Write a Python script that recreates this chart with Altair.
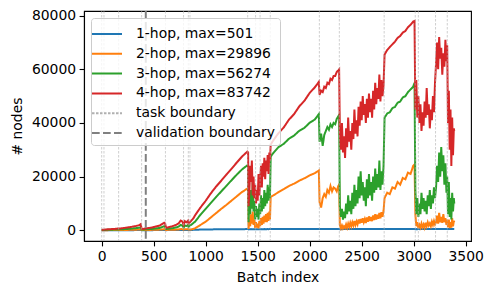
import altair as alt
import pandas as pd

# ---- data ----
batch = [
    0, 20, 40, 60, 80, 100, 120, 140, 160, 180, 200, 220, 240, 260, 280, 300, 320, 340, 360,
    375, 384, 400, 420, 440, 460, 480, 500, 520, 540, 560, 580, 600, 610, 618,
    640, 660, 680, 700, 720, 740, 760, 775, 788, 800, 815, 830, 835, 849,
    860, 881, 900, 950, 1000, 1050, 1100, 1150, 1200, 1250, 1300, 1350, 1400, 1408,
    1412, 1420, 1428, 1436, 1444, 1452, 1460, 1468, 1476, 1484, 1492, 1500, 1508, 1516,
    1524, 1532, 1540, 1548, 1556, 1564, 1572, 1580, 1588, 1596, 1604, 1612, 1618,
    1625, 1650, 1700, 1750, 1800, 1850, 1900, 1950, 2000, 2050, 2088,
    2095, 2110, 2125, 2140, 2155, 2170, 2185, 2200, 2215, 2230, 2245, 2260, 2275, 2283,
    2290, 2300, 2310, 2320, 2330, 2340, 2350, 2360, 2370, 2380, 2390, 2400, 2410, 2420,
    2430, 2440, 2450, 2460, 2470, 2480, 2490, 2500, 2510, 2520, 2530, 2540, 2550, 2560,
    2570, 2580, 2590, 2600, 2610, 2620, 2630, 2640, 2650, 2660, 2670, 2680, 2690, 2700, 2710,
    2720, 2745, 2770, 2795, 2820, 2845, 2870, 2895, 2920, 2945, 2970, 2995, 3008,
    3016, 3025, 3035, 3045, 3055, 3065, 3075, 3085, 3095, 3105, 3115, 3125, 3135, 3145,
    3155, 3165, 3175, 3185, 3195, 3205,
    3215, 3225, 3235, 3245, 3255, 3265, 3275, 3285, 3295, 3305, 3315, 3322,
    3330, 3338, 3346, 3354, 3362, 3370, 3378, 3386, 3390,
]

hop1 = [
    20, 25, 30, 30, 35, 35, 40, 40, 45, 45, 50, 50, 55, 55, 60, 60, 65, 65, 70,
    75, 50, 50, 55, 55, 60, 60, 65, 65, 70, 70, 75, 80, 80, 60,
    65, 70, 75, 80, 85, 90, 100, 100, 90, 100, 100, 110, 100, 110,
    130, 160, 200, 260, 300, 330, 360, 380, 400, 410, 420, 430, 440, 440,
    350, 420, 380, 440, 400, 430, 390, 420, 370, 410, 380, 420, 390, 430,
    400, 440, 410, 430, 400, 450, 420, 440, 410, 450, 430, 460, 440,
    450, 455, 460, 460, 465, 465, 470, 470, 475, 475, 480,
    470, 475, 470, 480, 475, 480, 480, 485, 480, 485, 485, 490, 490, 490,
    420, 440, 430, 450, 440, 455, 445, 460, 450, 460, 455, 465, 455, 470,
    460, 470, 465, 475, 465, 475, 470, 480, 470, 480, 475, 485, 475, 485,
    480, 490, 480, 490, 485, 495, 485, 495, 490, 500, 490, 500, 495, 501, 495,
    480, 485, 480, 490, 485, 490, 485, 495, 490, 495, 490, 495, 495,
    420, 440, 430, 450, 435, 455, 440, 450, 440, 455, 445, 460, 445, 455,
    440, 460, 450, 465, 450, 460,
    450, 465, 455, 470, 460, 470, 455, 465, 460, 470, 455, 465,
    430, 450, 440, 455, 440, 450, 445, 455, 450,
]

hop2 = [
    30, 40, 50, 60, 70, 80, 90, 100, 110, 120, 130, 140, 150, 160, 180, 200, 220, 250, 280,
    330, 100, 90, 120, 130, 150, 160, 180, 200, 230, 260, 320, 380, 350, 150,
    160, 180, 200, 230, 270, 320, 450, 420, 250, 420, 380, 450, 300, 300,
    300, 500, 800, 2000, 3200, 4800, 6400, 8000, 9500, 11100, 12700, 14300, 15500, 15300,
    500, 4000, 1500, 6000, 2500, 7000, 2000, 4000, 800, 3000, 1000, 2500, 700, 3500,
    1500, 4500, 2000, 5000, 2500, 5500, 3000, 6000, 3000, 6500, 3500, 7000, 4000,
    12500, 13000, 14200, 15300, 16500, 17400, 18500, 19400, 20500, 21300, 22300,
    10500, 8500, 12000, 13500, 12500, 15000, 14000, 16500, 14500, 16000, 15500, 14500, 16500, 17000,
    2000, 800, 1800, 700, 1500, 900, 2200, 1000, 2500, 1300, 2800, 1500, 3000, 1800,
    3500, 2000, 3300, 2200, 4000, 2500, 4200, 2800, 4500, 3000, 4200, 2700, 4800, 3200,
    5200, 3500, 5000, 3400, 5500, 3800, 6000, 4000, 5800, 4300, 6500, 4500, 6800, 5000, 7200,
    12000, 14000, 13500, 16000, 15500, 18000, 17000, 19500, 19000, 21500, 21000, 24000, 24500,
    6000, 1500, 3000, 800, 2000, 1000, 2500, 1200, 2200, 1000, 2800, 1500, 3000, 1800,
    2600, 1500, 3200, 2000, 3500, 2200,
    3000, 5500, 2500, 6500, 3000, 5000, 2800, 6000, 3000, 4500, 2000, 4000,
    1200, 4000, 800, 3000, 1000, 4500, 1500, 3500, 3000,
]

hop3 = [
    100, 120, 150, 180, 200, 230, 260, 300, 330, 360, 400, 450, 500, 550, 600, 700, 750, 850, 950,
    1200, 300, 250, 350, 400, 450, 500, 600, 700, 800, 900, 1200, 1500, 1300, 500,
    550, 650, 750, 900, 1100, 1400, 2000, 1800, 1000, 1800, 1600, 2000, 1300, 1900,
    2000, 2700, 3300, 5800, 8000, 10200, 12400, 14500, 16600, 18700, 20800, 22700, 24200, 24000,
    3000, 12000, 6000, 15000, 8000, 18000, 7000, 11000, 4000, 9000, 5000, 8000, 4000, 10000,
    6000, 13000, 7000, 12000, 8000, 15000, 9000, 14000, 10000, 17000, 11000, 16000, 12000,
    27500, 28800, 31000, 32200, 34100, 35300, 37100, 38200, 40100, 41300, 43300,
    33000, 36000, 31500, 35500, 37000, 38500, 37500, 39500, 38500, 40000, 39500, 41500, 42500, 43000,
    9000, 5000, 8000, 4000, 7000, 4500, 10000, 6000, 13000, 7000, 11000, 6000, 14000, 8000,
    17000, 9000, 15000, 10000, 20000, 12000, 22000, 13000, 18000, 11000, 16000, 9000, 19000, 12000,
    21000, 13000, 18000, 11000, 20000, 14000, 23000, 15000, 21000, 16000, 26000, 15000, 22000, 17000, 24000,
    42000, 43500, 44000, 45500, 46000, 47500, 48000, 49500, 50000, 51500, 52500, 53500, 55000,
    15000, 6000, 12000, 5000, 10000, 6000, 14000, 8000, 12000, 7000, 11000, 6000, 13000, 9000,
    15000, 8000, 13000, 10000, 16000, 12000,
    16000, 24000, 18000, 29000, 20000, 31000, 22000, 28000, 17000, 25000, 14000, 20000,
    6000, 18000, 5000, 12000, 4000, 14000, 7000, 12000, 10000,
]

hop4 = [
    200, 250, 300, 350, 400, 450, 500, 600, 650, 700, 800, 900, 1000, 1100, 1200, 1400, 1500, 1700, 1900,
    2300, 600, 500, 700, 800, 900, 1000, 1200, 1400, 1600, 1800, 2300, 2800, 2500, 1000,
    1100, 1300, 1500, 1800, 2100, 2600, 3600, 3300, 2000, 3400, 3000, 3600, 2500, 3000,
    3500, 4400, 5700, 8500, 11000, 13800, 16300, 18500, 20800, 23000, 25300, 27500, 29300, 29000,
    9000, 14000, 24000, 18000, 26000, 13000, 20000, 12000, 17000, 10000, 15000, 11000, 21000, 13000,
    19000, 24000, 16000, 25000, 20000, 27000, 19000, 26000, 22000, 28000, 21000, 29000, 26000,
    32000, 33500, 36200, 38300, 41200, 43300, 46200, 48300, 51200, 53300, 55300,
    50500, 52000, 51500, 53500, 53000, 55000, 54500, 56500, 56000, 57500, 57500, 59000, 59600, 60000,
    36000, 30000, 40000, 29000, 35000, 27000, 38000, 31000, 42000, 33000, 37000, 30000, 40000, 34000,
    45000, 36000, 41000, 35000, 46000, 39000, 48000, 41000, 50000, 43000, 47000, 40000, 49000, 42000,
    51000, 44000, 49000, 42000, 52000, 45000, 55000, 47000, 53000, 49000, 58000, 48000, 56000, 50000, 54000,
    65500, 67200, 68300, 69300, 70300, 71700, 72400, 73700, 74300, 75700, 76600, 77800, 78000,
    45000, 56000, 42000, 50000, 40000, 47000, 37000, 44000, 39000, 48000, 42000, 53000, 43000, 47000,
    38000, 45000, 41000, 50000, 44000, 55000,
    62000, 70000, 60000, 72000, 64000, 68000, 58000, 66000, 61000, 71000, 63000, 69000,
    40000, 52000, 30000, 45000, 24000, 42000, 28000, 38000, 37000,
]

task_boundaries = [0, 22, 163, 384, 613, 787, 833, 849, 1404, 1480, 1523, 1621,
                   2093, 2285, 2716, 3015, 3045, 3210, 3323]
validation_boundary = [424]

series_names = ["1-hop, max=501", "2-hop, max=29896", "3-hop, max=56274", "4-hop, max=83742"]
legend_names = series_names + ["task boundary", "validation boundary"]
colors = ["#1f77b4", "#ff7f0e", "#2ca02c", "#d62728", "#b0b0b0", "#808080"]
dashes = [[1, 0], [1, 0], [1, 0], [1, 0], [2.5, 1.5], [7.7, 3.3]]

# ---- tables ----
rows = []
for name, vals in zip(series_names, [hop1, hop2, hop3, hop4]):
    assert len(vals) == len(batch), (name, len(vals), len(batch))
    for b, v in zip(batch, vals):
        rows.append({"batch": b, "nodes": v, "series": name})
lines_df = pd.DataFrame(rows)

task_df = pd.DataFrame({"batch": task_boundaries, "series": ["task boundary"] * len(task_boundaries)})
val_df = pd.DataFrame({"batch": validation_boundary, "series": ["validation boundary"] * len(validation_boundary)})

FONT = "DejaVu Sans"
FS = 13.9

x_enc = alt.X(
    "batch:Q",
    scale=alt.Scale(domain=[-170, 3551], nice=False, zero=False),
    axis=alt.Axis(
        title="Batch index",
        values=[0, 500, 1000, 1500, 2000, 2500, 3000, 3500],
        format="d",
        grid=False,
        titleY=36,
        titleBaseline="middle",
    ),
)

color_enc = alt.Color(
    "series:N",
    scale=alt.Scale(domain=legend_names, range=colors),
    legend=alt.Legend(
        title=None,
        orient="top-left",
        offset=7,
        symbolType="M-1.5,0H1.5",
        symbolSize=400,
        symbolStrokeWidth=2,
        labelOffset=18,
        labelFont=FONT,
        labelFontSize=FS,
        labelColor="black",
        rowPadding=1.8,
        padding=5,
        fillColor="rgba(255,255,255,0.8)",
        strokeColor="#cccccc",
        cornerRadius=3,
        labelLimit=400,
    ),
)
dash_enc = alt.StrokeDash("series:N", scale=alt.Scale(domain=legend_names, range=dashes), legend=None)

lines = alt.Chart(lines_df).mark_line(strokeWidth=2).encode(
    x=x_enc,
    y=alt.Y(
        "nodes:Q",
        scale=alt.Scale(domain=[-3990, 81725], nice=False, zero=False),
        axis=alt.Axis(
            title="# nodes",
            values=[0, 20000, 40000, 60000, 80000],
            format="d",
            grid=False,
            titleX=-67,
            titleY=115,
            titleAngle=270,
            titleBaseline="middle",
            titleAlign="center",
        ),
    ),
    color=color_enc,
    strokeDash=dash_enc,
)

task_rules = alt.Chart(task_df).mark_rule(strokeWidth=0.6).encode(
    x=alt.X("batch:Q"),
    color=alt.Color("series:N"),
    strokeDash=alt.StrokeDash("series:N"),
)

val_rules = alt.Chart(val_df).mark_rule(strokeWidth=2).encode(
    x=alt.X("batch:Q"),
    color=alt.Color("series:N"),
    strokeDash=alt.StrokeDash("series:N"),
)

chart = (
    alt.layer(lines, task_rules, val_rules)
    .properties(
        width=387,
        height=230,
        background="white",
        autosize=alt.AutoSizeParams(type="none"),
        padding={"left": 76, "top": 3, "right": 14, "bottom": 45},
    )
    .configure_view(stroke="black", strokeWidth=1.1)
    .configure_axis(
        labelFont=FONT,
        labelFontSize=FS,
        labelColor="black",
        titleFont=FONT,
        titleFontSize=FS,
        titleFontWeight="normal",
        titleColor="black",
        tickColor="black",
        tickSize=4.9,
        tickWidth=1.1,
        labelPadding=3.5,
        domainColor="black",
        domainWidth=1.1,
    )
)

chart.save("out.html", embed_options={"renderer": "svg", "actions": False})
